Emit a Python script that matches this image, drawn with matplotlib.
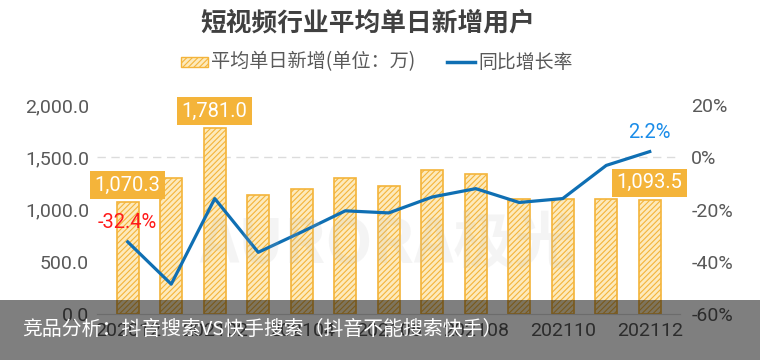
import matplotlib.pyplot as plt
from matplotlib.patches import Rectangle
import numpy as np

plt.rcParams['font.family'] = ['Noto Sans CJK SC', 'DejaVu Sans']
plt.rcParams['hatch.linewidth'] = 0.8

months = ['202012', '202101', '202102', '202103', '202104', '202105', '202106',
          '202107', '202108', '202109', '202110', '202111', '202112']
new_users = [1070.3, 1300, 1781.0, 1135, 1198, 1305, 1225, 1383, 1338, 1096, 1098, 1096, 1093.5]
yoy = [-32.4, -48.6, -15.8, -36.4, -28.6, -20.5, -21.3, -15.2, -12.0, -17.3, -15.8, -3.1, 2.2]

bar_label_idx = [0, 2, 12]
yoy_label_idx = {0: '#ff1a1a', 12: '#1a8ce8'}

num_font = ['Roboto', 'Noto Sans CJK SC']
orange = '#f4b43a'
blue = '#0f6fb3'
grey = '#595959'

fig = plt.figure(figsize=(7.6, 3.6), dpi=100)
ax = fig.add_axes([0.128, 0.128, 0.767, 0.58])
x = np.arange(len(months))

ax.bar(x, new_users, width=0.5, facecolor='#fdeabc', edgecolor=orange,
       hatch='//////', linewidth=1.2, zorder=2)
ax.set_xlim(-0.7, len(months) - 0.3)
ax.set_ylim(0, 2000)
ax.set_yticks([0, 500, 1000, 1500, 2000])
ax.set_yticklabels([f'{v:,.1f}' for v in [0, 500, 1000, 1500, 2000]],
                   family=num_font, fontsize=14, color=grey)
ax.set_xticks(x[::2])
ax.set_xticklabels(months[::2], family=num_font, fontsize=14, color=grey)
ax.tick_params(length=0, pad=6)
for s in ['top', 'right', 'left']:
    ax.spines[s].set_visible(False)
ax.spines['bottom'].set_color('#d9d9d9')
ax.axhline(1500, color='#dcdcdc', lw=1, ls=(0, (6, 4)), zorder=1)

for i in bar_label_idx:
    ax.annotate(f'{new_users[i]:,.1f}', (x[i], new_users[i]), xytext=(0, 17),
                textcoords='offset pixels',
                ha='center', va='center', color='white', fontsize=14.5, family=num_font,
                bbox=dict(boxstyle='square,pad=0.22', fc=orange, ec='none'), zorder=5)

ax2 = ax.twinx()
ax2.plot(x, yoy, color=blue, lw=2.3, zorder=4)
ax2.set_ylim(-60, 20)
ax2.set_yticks([-60, -40, -20, 0, 20])
ax2.set_yticklabels([f'{v}%' for v in [-60, -40, -20, 0, 20]],
                    family=num_font, fontsize=14, color=grey)
ax2.tick_params(length=0, pad=8)
for s in ax2.spines.values():
    s.set_visible(False)
for i, c in yoy_label_idx.items():
    ax2.annotate(f'{yoy[i]:.1f}%', (x[i], yoy[i]), xytext=(0, 19),
                 textcoords='offset pixels', ha='center', va='center',
                 color=c, fontsize=14.5, family=num_font)

# watermark
fig.text(0.51, 0.32, 'AURORA极光', fontsize=44, fontweight='bold',
         color='#bbbbbb', alpha=0.15, ha='center', va='center', zorder=0)

fig.text(0.484, 0.935, '短视频行业平均单日新增用户', fontsize=18.5, fontweight='bold',
         color='#404040', ha='center', va='center')

# legend
fig.patches.append(Rectangle((181 / 760, 1 - 67 / 360), 27 / 760, 10 / 360,
                             transform=fig.transFigure, facecolor='#fdeabc',
                             edgecolor=orange, hatch='//////', lw=1))
fig.text(211 / 760, 1 - 62 / 360, '平均单日新增(单位：万)', fontsize=13.8,
         color=grey, va='center', ha='left')
fig.lines.append(plt.Line2D([447 / 760, 475 / 760], [1 - 62 / 360, 1 - 62 / 360],
                            transform=fig.transFigure, color=blue, lw=2.5))
fig.text(478 / 760, 1 - 62 / 360, '同比增长率', fontsize=13.6,
         color=grey, va='center', ha='left')

# dark caption band
fig.patches.append(Rectangle((0, 0), 1, 60 / 360, transform=fig.transFigure,
                             facecolor='black', alpha=0.5, zorder=10))
fig.text(22 / 760, 1 - 329 / 360, '竞品分析：抖音搜索VS快手搜索（抖音不能搜索快手）',
         fontsize=14.3, color='white', va='center', ha='left', zorder=11)

fig.savefig('out.png', dpi=100)
